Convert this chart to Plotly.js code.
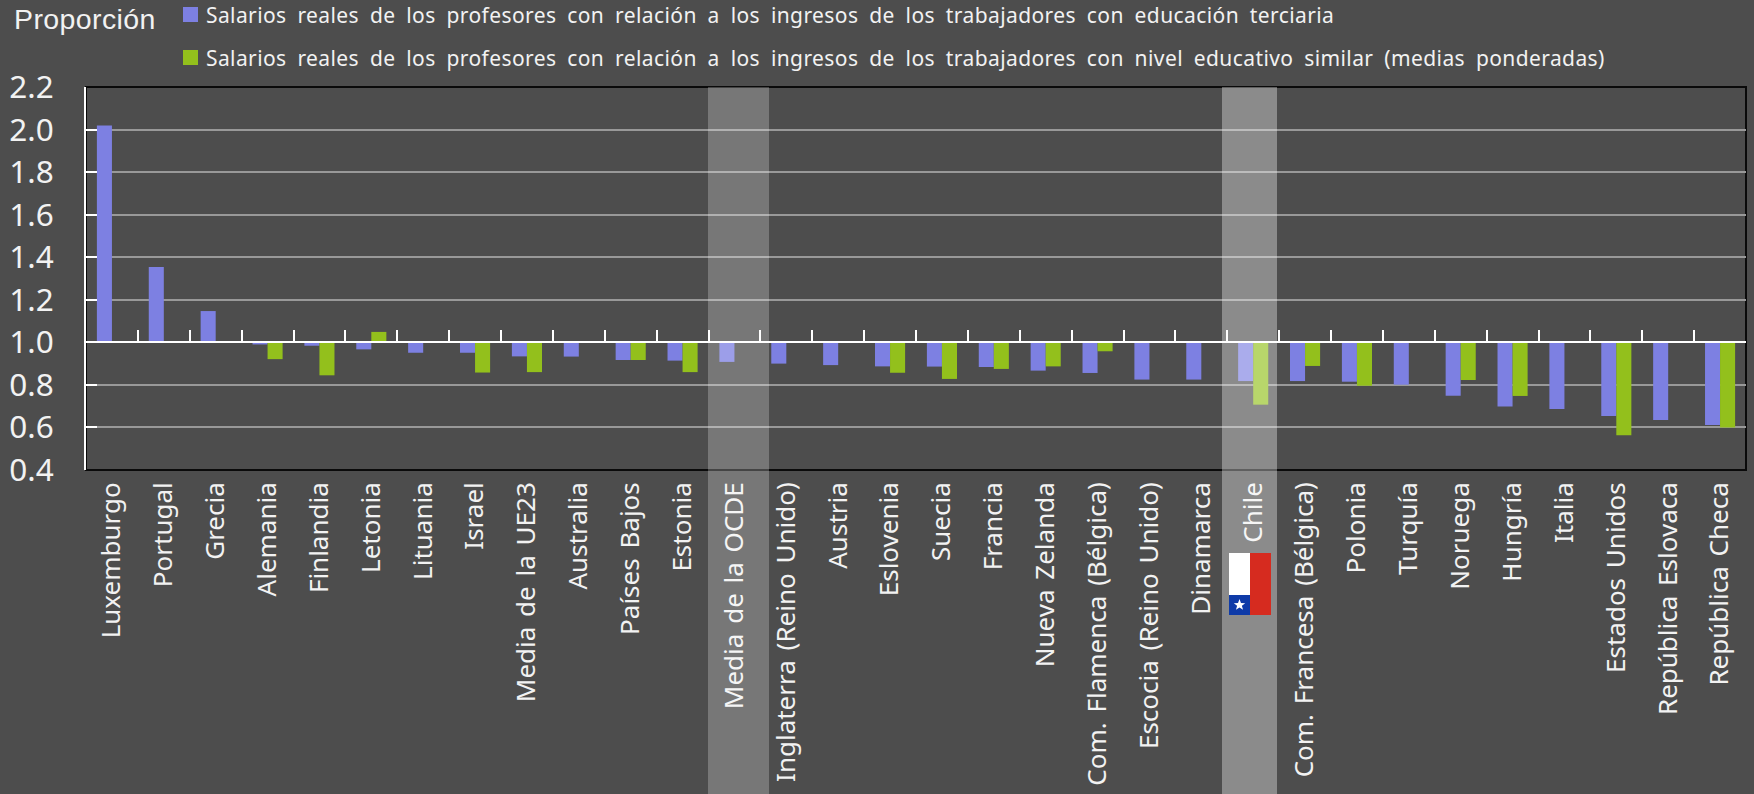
<!DOCTYPE html>
<html><head><meta charset="utf-8">
<script src="https://cdn.plot.ly/plotly-3.0.1.min.js"></script>
<style>html,body{margin:0;padding:0;background:#4d4d4d}
text{letter-spacing:.4px;word-spacing:5px}
.xtick text{letter-spacing:0;word-spacing:3px}
.ytick text{letter-spacing:0;word-spacing:0}
</style></head>
<body><div id="chart" style="width:1754px;height:794px"></div>
<script>
const categories = ["Luxemburgo","Portugal","Grecia","Alemania","Finlandia","Letonia","Lituania","Israel","Media de la UE23","Australia","Países Bajos","Estonia","Media de la OCDE","Inglaterra (Reino Unido)","Austria","Eslovenia","Suecia","Francia","Nueva Zelanda","Com. Flamenca (Bélgica)","Escocia (Reino Unido)","Dinamarca","Chile","Com. Francesa (Bélgica)","Polonia","Turquía","Noruega","Hungría","Italia","Estados Unidos","República Eslovaca","República Checa"];
const terciaria = [2.019,1.354,1.147,0.99,0.984,0.967,0.951,0.951,0.934,0.933,0.917,0.914,0.908,0.90,0.893,0.887,0.886,0.884,0.867,0.856,0.825,0.825,0.818,0.818,0.815,0.801,0.749,0.698,0.687,0.654,0.635,0.612];
const similar = [null,null,null,0.921,0.845,1.049,null,0.858,0.86,null,0.917,0.86,null,null,null,0.857,0.828,0.875,0.887,0.958,null,null,0.707,0.889,0.796,null,0.823,0.748,null,0.563,null,0.60];
const names = ["Salarios reales de los profesores con relación a los ingresos de los trabajadores con educación terciaria","Salarios reales de los profesores con relación a los ingresos de los trabajadores con nivel educativo similar (medias ponderadas)"];
const yTicks = [0.4,0.6,0.8,1.0,1.2,1.4,1.6,1.8,2.0,2.2];
const BASE = 1.0, BLUE = "#7d80e2", GREEN = "#93c01c", INK = "#f2f2f2", FONT = "'Noto Sans', sans-serif";

const W=1754,H=794,L=86,R=1746,T=87,B=470;
const px = x => (x-L)/(R-L), py = y => (B-y)/(B-T);
const paper = o => Object.assign({xref:"paper",yref:"paper"},o);
const rel = a => a.map(v => v===null ? null : +(v-BASE).toFixed(3));

const traces = [
 {type:"bar",name:names[0],x:categories,y:rel(terciaria),base:BASE,marker:{color:BLUE}},
 {type:"bar",name:names[1],x:categories,y:rel(similar),base:BASE,marker:{color:GREEN}},
 {type:"scatter",x:[],y:[],xaxis:"x2",showlegend:false}
];
const band = (x0,x1,a) => paper({type:"rect",layer:"above",x0:px(x0),x1:px(x1),y0:py(H),y1:1,fillcolor:`rgba(255,255,255,${a})`,line:{width:0}});
const rect = (x0,x1,y0,y1,c) => paper({type:"rect",layer:"above",x0:px(x0),x1:px(x1),y0:py(y1),y1:py(y0),fillcolor:c,line:{width:0}});
const star = (cx,cy,r)=>{let d="";for(let i=0;i<10;i++){const a=-Math.PI/2+i*Math.PI/5,q=i%2?r*0.42:r;d+=(i?"L":"M")+px(cx+q*Math.cos(a)).toFixed(5)+","+py(cy+q*Math.sin(a)).toFixed(5);}return d+"Z";};
const shapes = [
 paper({type:"rect",layer:"below",x0:0,x1:1,y0:0,y1:1,line:{color:"#0a0a0a",width:2}}),
 band(708,769,0.24), band(1222,1277,0.35),
 rect(1229,1250,553,595,"#ffffff"), rect(1229,1250,595,615,"#0f3ba8"), rect(1250,1271,553,615,"#d62b1f"),
 paper({type:"path",layer:"above",path:star(1239.5,605,6),fillcolor:"#ffffff",line:{width:0}}),
 rect(183,198,7,22,BLUE), rect(183,198,50,65,GREEN)
];
const ann = (t,x,y,size,fam) => paper({text:t,x:px(x),y:py(y),xanchor:"left",yanchor:"middle",showarrow:false,font:{family:fam,size:size,color:INK}});
const annotations = [
 ann("Proporción",12,19,28.5,"'Liberation Sans', Arial, sans-serif"),
 ann(names[0],204,15,21,FONT), ann(names[1],204,58,21,FONT)
];
const layout = {
 width:W,height:H,paper_bgcolor:"#4d4d4d",plot_bgcolor:"#4d4d4d",showlegend:false,
 margin:{l:L,r:W-R,t:T,b:H-B,pad:0},barmode:"group",bargap:0.42,bargroupgap:0,
 font:{family:FONT,color:INK},
 xaxis:{type:"category",categories:categories,categoryorder:"array",range:[-0.5,31.5],tickangle:-90,ticks:"",showgrid:false,zeroline:false,showline:false,automargin:false,tickfont:{size:26,color:INK,family:FONT},ticklabelstandoff:6},
 xaxis2:{type:"linear",overlaying:"x",anchor:"free",position:(BASE-0.4)/1.8,range:[-0.5,31.5],tick0:-0.5,dtick:1,tickmode:"linear",ticks:"inside",ticklen:11,tickwidth:2,tickcolor:"#ffffff",showticklabels:false,showline:true,linecolor:"#ffffff",linewidth:2,showgrid:false,zeroline:false},
 yaxis:{range:[0.4,2.2],tickmode:"array",tickvals:yTicks,ticktext:yTicks.map(v=>v.toFixed(1)),ticks:"inside",ticklen:11,tickwidth:2,tickcolor:"#ffffff",showline:true,linecolor:"#ffffff",linewidth:2,gridcolor:"#999999",gridwidth:2,zeroline:false,automargin:false,tickfont:{size:31.5,color:INK,family:FONT},ticklabelstandoff:24},
 shapes:shapes,annotations:annotations
};
Plotly.newPlot("chart",traces,layout,{displayModeBar:false,staticPlot:true});
</script></body></html>
